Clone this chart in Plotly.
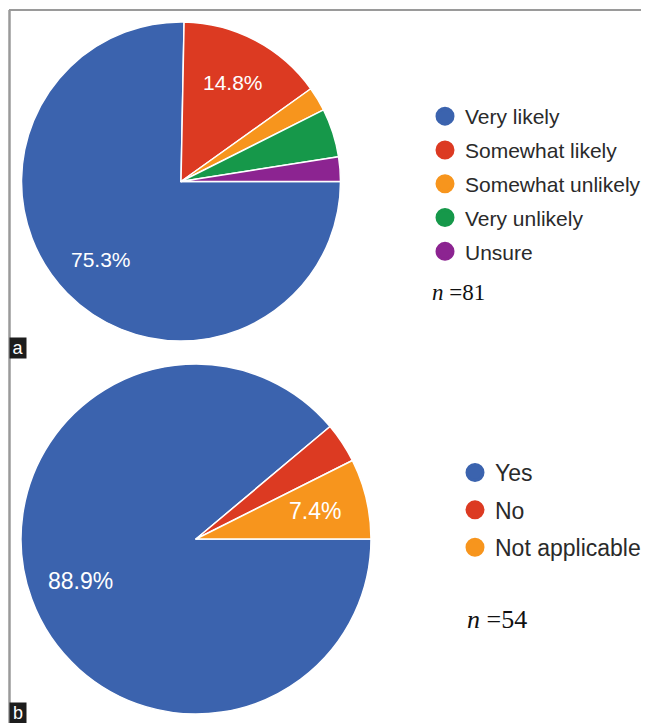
import math
import plotly.graph_objects as go

# Browser body margin is 8px, so the figure is 641x715 placed at (8, 8)
OFF = 8
W, H = 641, 715

# Panel a data (n = 81)
a_labels = ["Very likely", "Somewhat likely", "Somewhat unlikely", "Very unlikely", "Unsure"]
a_counts = [61, 12, 2, 4, 2]
a_shown = ["75.3%", "14.8%", "", "", ""]
a_colors = ["#3b63ae", "#dc3a22", "#f7951d", "#16984a", "#8c2491"]
a_n = 81

# Panel b data (n = 54)
b_labels = ["Yes", "No", "Not applicable"]
b_counts = [48, 2, 4]
b_shown = ["88.9%", "", "7.4%"]
b_colors = ["#3b63ae", "#dc3a22", "#f7951d"]
b_n = 54


def px_x(v):
    return (v - OFF) / W


def px_y(v):
    return 1 - (v - OFF) / H


A_DOM = dict(x=[17, 345], y=[22, 341])     # reference pixel box of pie a
B_DOM = dict(x=[19, 373], y=[364, 714])    # reference pixel box of pie b

fig = go.Figure()


def add_pie(labels, counts, colors, dom):
    fig.add_trace(go.Pie(
        labels=labels, values=counts, textinfo="none",
        sort=False, direction="clockwise", rotation=90,
        marker=dict(colors=colors, line=dict(color="white", width=1.5)),
        domain=dict(x=[px_x(dom["x"][0]), px_x(dom["x"][1])],
                    y=[px_y(dom["y"][1]), px_y(dom["y"][0])]),
        showlegend=False, hoverinfo="label+percent",
    ))


def pie_labels(counts, shown, dom, size):
    # place each percentage at 0.7 of the radius on the slice's mid-angle
    cx = (dom["x"][0] + dom["x"][1]) / 2
    cy = (dom["y"][0] + dom["y"][1]) / 2
    r = min(dom["x"][1] - dom["x"][0], dom["y"][1] - dom["y"][0]) / 2
    total = sum(counts)
    start = 0.0  # degrees clockwise from 3 o'clock
    out = []
    for c, t in zip(counts, shown):
        sweep = 360.0 * c / total
        mid = math.radians(start + sweep / 2)
        start += sweep
        if not t:
            continue
        x = cx + 0.7 * r * math.cos(mid)
        y = cy + 0.7 * r * math.sin(mid)
        out.append(dict(text=t, xref="paper", yref="paper",
                        x=px_x(x), y=px_y(y), xanchor="center", yanchor="middle",
                        showarrow=False,
                        font=dict(family="Liberation Sans, Arial", size=size, color="white")))
    return out


add_pie(a_labels, a_counts, a_colors, A_DOM)
add_pie(b_labels, b_counts, b_colors, B_DOM)

# Legend entries (circle markers)
for i, (lab, col) in enumerate(zip(a_labels, a_colors)):
    fig.add_trace(go.Scatter(
        x=[None], y=[None], mode="markers", name=lab,
        marker=dict(symbol="circle", size=16, color=col, line=dict(color=col, width=3)),
        legend="legend", legendgroup="a%d" % i, showlegend=True,
    ))
for i, (lab, col) in enumerate(zip(b_labels, b_colors)):
    fig.add_trace(go.Scatter(
        x=[None], y=[None], mode="markers", name=lab,
        marker=dict(symbol="circle", size=16, color=col, line=dict(color=col, width=3)),
        legend="legend2", legendgroup="b%d" % i, showlegend=True,
    ))

annotations = []
annotations += pie_labels(a_counts, a_shown, A_DOM, 21)
annotations += pie_labels(b_counts, b_shown, B_DOM, 23)
annotations += [
    dict(text="<i>n</i> =%d" % a_n, xref="paper", yref="paper",
         x=px_x(430), y=px_y(292), xanchor="left", yanchor="middle",
         showarrow=False,
         font=dict(family="Liberation Serif, Times New Roman", size=23, color="#111")),
    dict(text="<i>n</i> =%d" % b_n, xref="paper", yref="paper",
         x=px_x(465), y=px_y(619), xanchor="left", yanchor="middle",
         showarrow=False,
         font=dict(family="Liberation Serif, Times New Roman", size=26, color="#111")),
    dict(text="a", xref="paper", yref="paper",
         x=px_x(9), y=px_y(337), xanchor="left", yanchor="top",
         showarrow=False, bgcolor="#1c1c1c", width=12, height=16, borderpad=2,
         font=dict(family="Liberation Sans, Arial", size=18, color="white")),
    dict(text="b", xref="paper", yref="paper",
         x=px_x(9), y=px_y(702), xanchor="left", yanchor="top",
         showarrow=False, bgcolor="#1c1c1c", width=12, height=16, borderpad=2,
         font=dict(family="Liberation Sans, Arial", size=18, color="white")),
]

fig.update_layout(
    width=W, height=H,
    margin=dict(l=0, r=0, t=0, b=0),
    paper_bgcolor="white", plot_bgcolor="white",
    xaxis=dict(visible=False), yaxis=dict(visible=False),
    legend=dict(
        x=px_x(425), y=px_y(96), xanchor="left", yanchor="top",
        font=dict(family="Liberation Sans, Arial", size=21, color="#2a2a2a"),
        tracegroupgap=3.5, bgcolor="rgba(0,0,0,0)",
        itemclick=False, itemdoubleclick=False,
    ),
    legend2=dict(
        x=px_x(455), y=px_y(451), xanchor="left", yanchor="top",
        font=dict(family="Liberation Sans, Arial", size=23, color="#2a2a2a"),
        tracegroupgap=4.5, bgcolor="rgba(0,0,0,0)",
        itemclick=False, itemdoubleclick=False,
    ),
    shapes=[
        dict(type="line", xref="paper", yref="paper",
             x0=px_x(9), x1=1.0, y0=px_y(10), y1=px_y(10),
             line=dict(color="#9a9a9a", width=2)),
        dict(type="line", xref="paper", yref="paper",
             x0=px_x(9.5), x1=px_x(9.5), y0=px_y(10), y1=0,
             line=dict(color="#9a9a9a", width=2.5)),
    ],
    annotations=annotations,
)

fig.write_html("out.html")
